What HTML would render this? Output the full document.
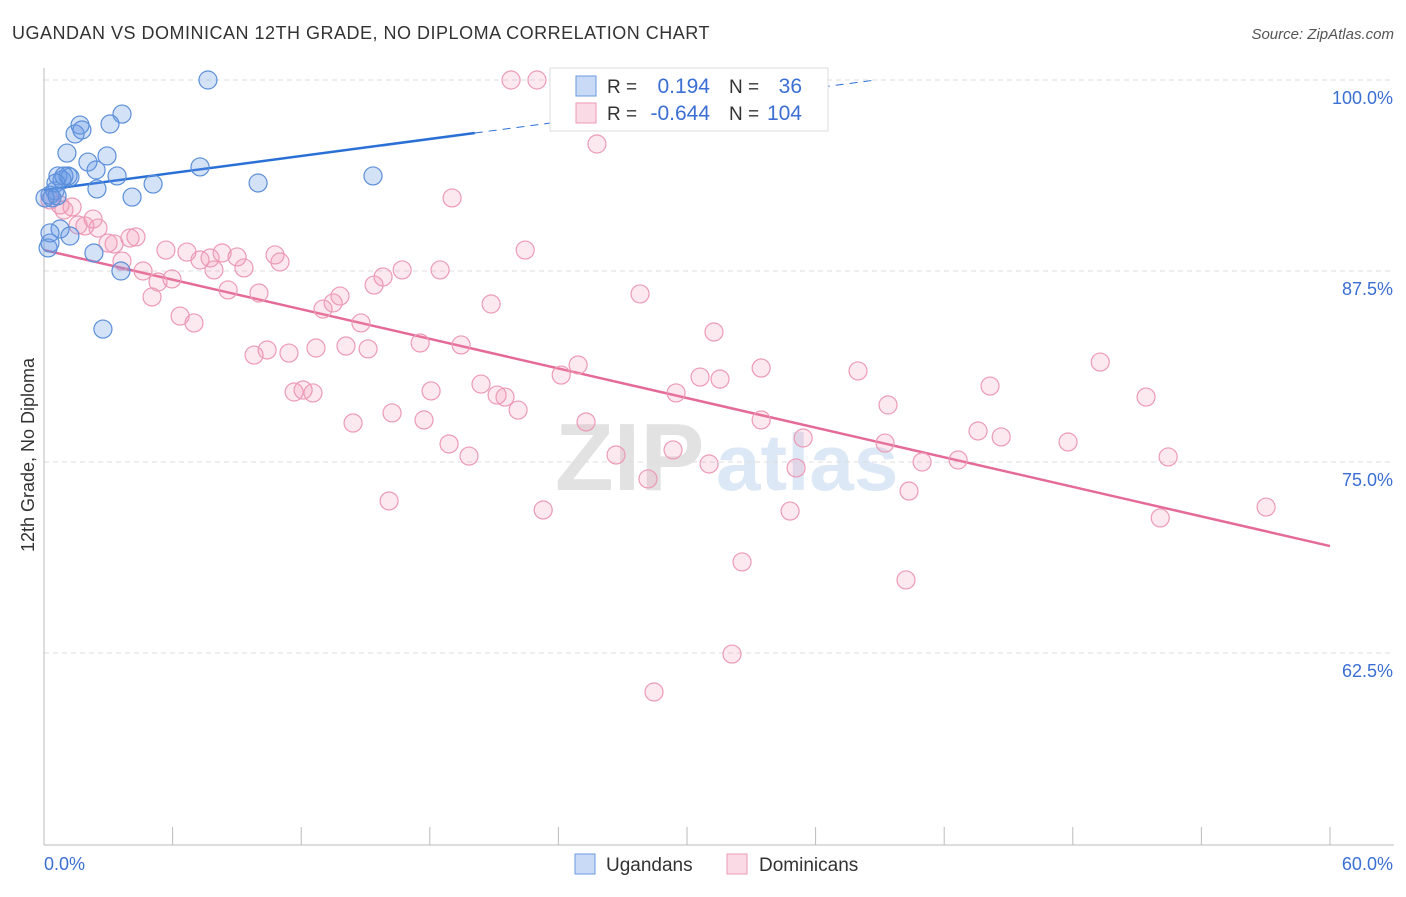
<!DOCTYPE html>
<html><head><meta charset="utf-8"><style>
body{margin:0;background:#fff;font-family:"Liberation Sans",sans-serif}
svg text{font-family:"Liberation Sans",sans-serif}
</style></head><body>
<svg id="chart" width="1406" height="892" viewBox="0 0 1406 892" xmlns="http://www.w3.org/2000/svg">
<text x="12" y="39" font-size="18" fill="#333" letter-spacing="0.5">UGANDAN VS DOMINICAN 12TH GRADE, NO DIPLOMA CORRELATION CHART</text>
<text x="1394" y="39" font-size="15" fill="#555" text-anchor="end" font-style="italic">Source: ZipAtlas.com</text>
<g id="watermark">
<text x="555" y="490" font-size="96" fill="#e2e2e2" font-family="Liberation Serif" font-weight="bold">ZIP</text>
<text x="716" y="490" font-size="80" fill="#dce8f6" font-weight="bold">atlas</text>
</g>
<g id="grid"></g><g id="axes"></g><g id="trends"></g><g id="points"></g>
<text transform="translate(34,455) rotate(-90)" font-size="18" fill="#333" text-anchor="middle">12th Grade, No Diploma</text>
<g>
<rect x="550" y="68" width="278" height="63" fill="#fff" stroke="#ddd"/>
<rect x="576" y="76" width="20" height="20" fill="rgba(100,150,230,0.35)" stroke="#6a9ae0"/>
<rect x="576" y="103" width="20" height="20" fill="rgba(240,150,180,0.35)" stroke="#ec9ab5"/>
<text x="607" y="93" font-size="19" fill="#333">R =</text><text x="710" y="93" font-size="21" fill="#3b6fd4" text-anchor="end">0.194</text>
<text x="729" y="93" font-size="19" fill="#333">N =</text><text x="802" y="93" font-size="21" fill="#3b6fd4" text-anchor="end">36</text>
<text x="607" y="120" font-size="19" fill="#333">R =</text><text x="710" y="120" font-size="21" fill="#3b6fd4" text-anchor="end">-0.644</text>
<text x="729" y="120" font-size="19" fill="#333">N =</text><text x="802" y="120" font-size="21" fill="#3b6fd4" text-anchor="end">104</text>
</g>
<g>
<rect x="575" y="854" width="20" height="20" fill="rgba(100,150,230,0.35)" stroke="#6a9ae0"/>
<text x="606" y="871" font-size="19" fill="#333">Ugandans</text>
<rect x="727" y="854" width="20" height="20" fill="rgba(240,150,180,0.35)" stroke="#ec9ab5"/>
<text x="759" y="871" font-size="19" fill="#333">Dominicans</text>
</g>
</svg>
<script>
const yTicks=[100,87.5,75,62.5];
const yTickLabels=["100.0%","87.5%","75.0%","62.5%"];
const xTicks=[0,6,12,18,24,30,36,42,48,54,60];
const xEndLabels=["0.0%","60.0%"];
const ugX=[7.65,3.64,1.68,3.08,1.45,1.77,1.07,2.94,2.05,7.28,2.43,3.41,0.65,0.84,1.12,1.21,15.35,9.99,5.09,2.47,0.51,0.28,4.11,0.37,0.75,0.28,1.21,0.19,2.33,3.59,2.75,0.93,0.56,0.05,0.28,0.61];
const ugY=[100,97.77,97.05,97.12,96.47,96.73,95.22,95.03,94.63,94.31,94.11,93.72,93.72,93.46,93.72,93.65,93.72,93.26,93.19,92.87,92.74,92.47,92.34,92.28,90.25,89.99,89.79,89.01,88.68,87.5,83.7,93.72,93.26,92.28,89.33,92.41];
const doX=[21.79,23.0,25.8,19.04,22.45,0.28,0.75,1.31,0.93,2.29,1.91,2.52,1.59,2.99,3.27,4.01,4.29,3.64,4.62,5.69,6.67,5.97,5.32,5.04,7.28,7.75,8.31,9.01,7.93,9.33,10.78,11.01,8.59,10.03,6.35,7.0,9.8,10.41,11.43,12.69,13.02,13.49,13.81,14.79,14.09,15.12,15.4,15.82,16.71,18.48,20.86,17.55,19.46,16.24,14.42,17.73,18.06,18.9,19.83,20.39,21.14,21.51,22.12,16.1,23.29,24.13,24.92,25.29,26.69,28.18,29.35,27.81,31.26,30.61,31.54,33.46,33.46,35.42,35.09,31.03,34.81,32.57,32.1,28.46,37.98,39.38,39.24,40.97,40.36,42.65,40.22,44.14,43.58,44.66,49.28,47.78,51.42,52.45,52.08,57.02,11.67,12.09,12.55,29.49];
const doY=[100,100,95.81,92.28,88.87,92.15,91.82,91.69,91.49,90.9,90.45,90.31,90.51,89.33,89.27,89.66,89.73,88.15,87.5,88.87,88.74,86.98,86.78,85.8,88.22,88.35,88.68,88.42,87.57,87.7,88.55,88.09,86.26,86.06,84.55,84.1,82.0,82.33,82.13,82.46,85.01,85.41,85.86,84.1,82.59,82.4,86.58,87.11,87.57,87.57,85.34,82.79,82.66,78.21,77.55,77.75,79.65,76.18,75.39,80.1,79.38,79.25,78.4,72.45,71.86,80.69,81.35,77.62,75.46,73.89,75.79,86.0,83.51,80.56,80.43,81.15,77.75,76.57,74.61,74.87,71.79,68.46,62.43,59.95,80.96,78.73,76.24,75.0,73.1,75.13,67.28,79.97,77.03,76.64,81.54,76.31,79.25,75.33,71.34,72.05,79.58,79.71,79.52,79.52];
const ugTrend=[[0,92.8],[20.1,96.53],[38.8,100]];
const doTrend=[[0,88.87],[60,69.5]];
const NS="http://www.w3.org/2000/svg";
const X=v=>44+v*21.433, Y=v=>80+(100-v)*15.28;
function mk(tag,attrs,parent){const e=document.createElementNS(NS,tag);for(const k in attrs)e.setAttribute(k,attrs[k]);document.getElementById(parent).appendChild(e);return e;}
yTicks.forEach((t,i)=>{
 const l=mk('line',{x1:44,x2:1394,y1:Y(t),y2:Y(t),stroke:'#ddd','stroke-dasharray':'5,4'},'grid');
 
 
 const tx=mk('text',{x:1393,y:Y(t)+24,'font-size':18,fill:'#3b6fd4','text-anchor':'end'},'grid');
 tx.textContent=yTickLabels[i];
 
 
});
const ax=mk('line',{x1:44,x2:44,y1:68,y2:845,stroke:'#bbb'},'axes');


const bx=mk('line',{x1:44,x2:1394,y1:845,y2:845,stroke:'#bbb'},'axes');


xTicks.forEach(t=>{const l=mk('line',{x1:X(t),x2:X(t),y1:827,y2:845,stroke:'#bbb'},'axes');
 
 });
[[0,'start'],[60,'end']].forEach((p,i)=>{const t=mk('text',{x:X(p[0])+(i?63:0),y:870,'font-size':18,fill:'#3b6fd4','text-anchor':p[1]},'axes');t.textContent=xEndLabels[i];
 
 });
const t1=mk('line',{x1:X(ugTrend[0][0]),y1:Y(ugTrend[0][1]),x2:X(ugTrend[1][0]),y2:Y(ugTrend[1][1]),stroke:'#2a6fd6','stroke-width':2.5},'trends');


const t2=mk('line',{x1:X(ugTrend[1][0]),y1:Y(ugTrend[1][1]),x2:X(ugTrend[2][0]),y2:Y(ugTrend[2][1]),stroke:'#2a6fd6','stroke-width':1,'stroke-dasharray':'8,6'},'trends');


const t3=mk('line',{x1:X(doTrend[0][0]),y1:Y(doTrend[0][1]),x2:X(doTrend[1][0]),y2:Y(doTrend[1][1]),stroke:'#e46a97','stroke-width':2.5},'trends');


doX.forEach((x,i)=>{const c=mk('circle',{cx:X(x),cy:Y(doY[i]),r:9,fill:'rgba(240,150,180,0.22)',stroke:'#ec9ab5','stroke-width':1.2},'points');
 
 });
ugX.forEach((x,i)=>{const c=mk('circle',{cx:X(x),cy:Y(ugY[i]),r:9,fill:'rgba(100,150,230,0.28)',stroke:'#5b8fd9','stroke-width':1.2},'points');
 
 });
</script>
</body></html>
